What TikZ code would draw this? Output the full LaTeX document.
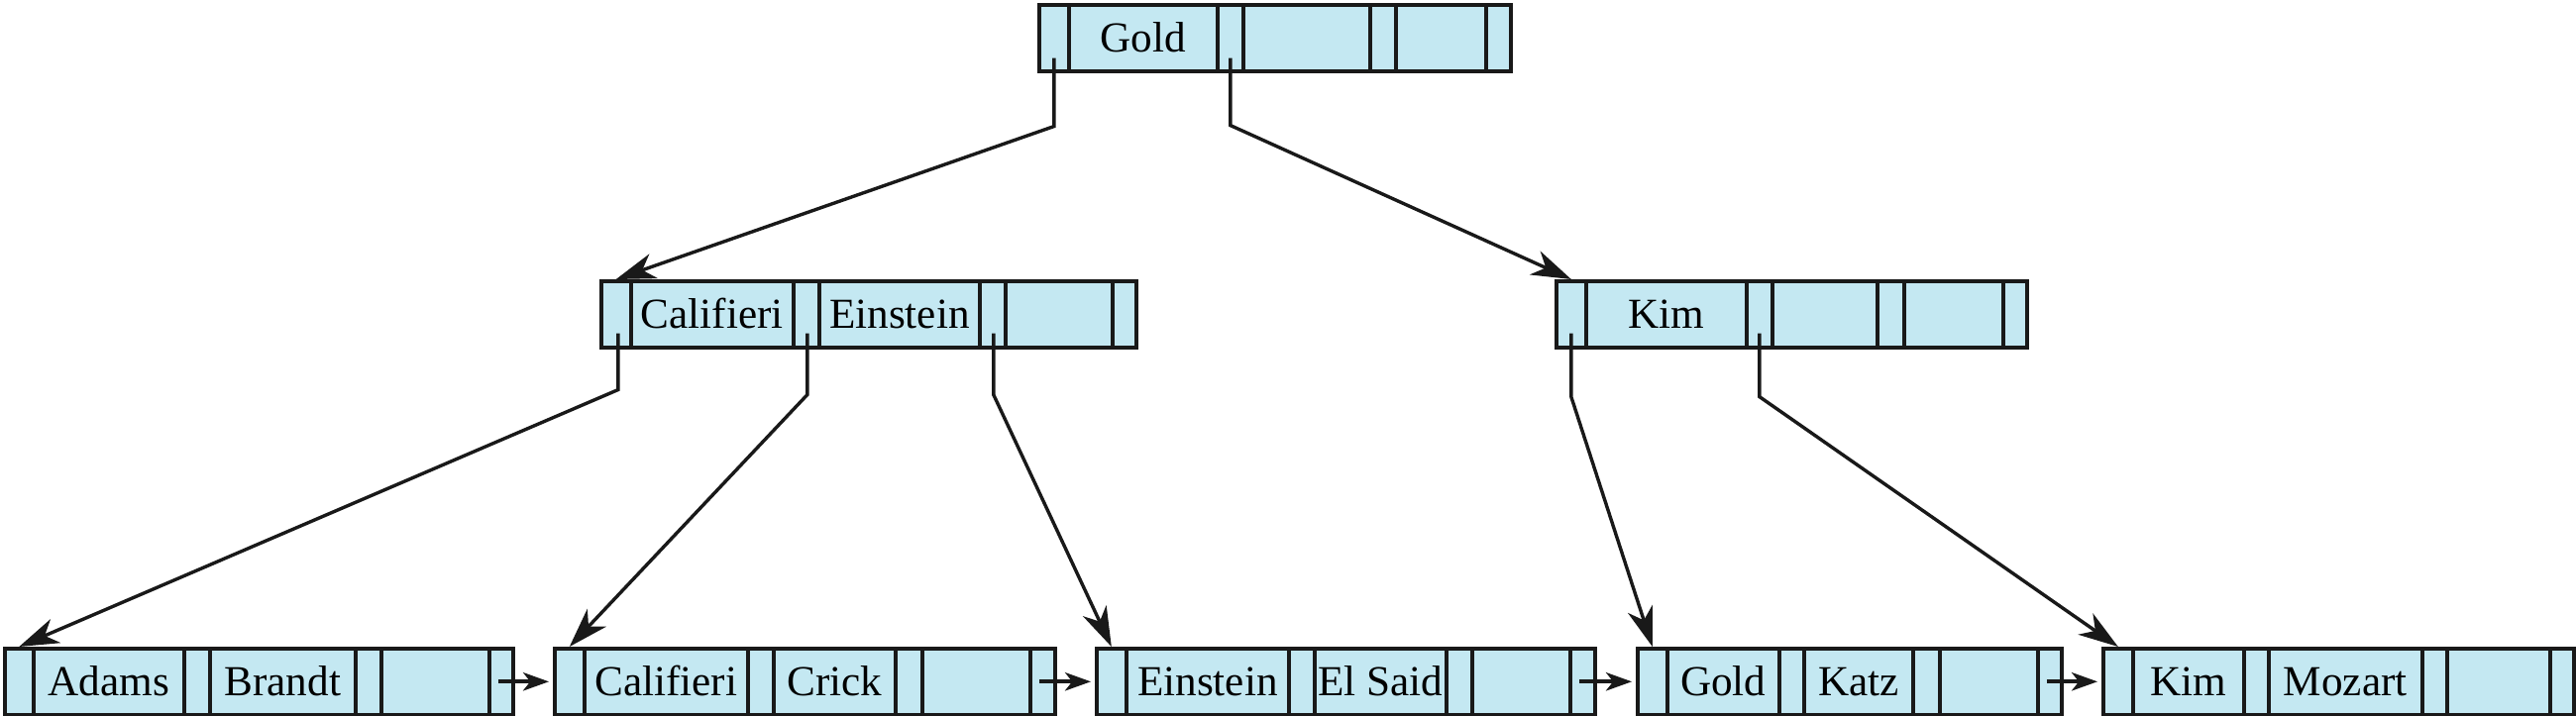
\documentclass[tikz,border=0pt]{standalone}
\usepackage{fontspec}
\setmainfont{Liberation Serif}
\usetikzlibrary{calc,arrows.meta}
\definecolor{nodeblue}{RGB}{196,232,242}
\tikzset{
  cell/.style={draw=black!90, line width=0.9pt, fill=nodeblue, inner xsep=0pt, inner ysep=0pt,
    text height=12pt, text depth=4.75pt, minimum height=16.75pt, anchor=north west,
    font=\fontsize{10.8}{12}\selectfont},
  ptr/.style={draw=black!90, line width=0.85pt, line join=miter,
    -{Stealth[length=10pt,width=6.5pt,inset=3pt]}},
  nxt/.style={draw=black!90, line width=0.9pt, shorten >=1pt,
    -{Stealth[length=6.5pt,width=4.6pt,inset=1.8pt]}}
}
\newcommand\bcell[5]{\node[cell, minimum width={(#3-#2)*0.25pt}] (#1) at (#2,#4) {#5};}
\begin{document}
\begin{tikzpicture}[x=0.25pt,y=-0.25pt]
\useasboundingbox (0,0) rectangle (2600,723);
% root
\bcell{t0}{1047}{1077}{3}{}
\bcell{t1}{1077}{1227}{3}{Gold}
\bcell{t2}{1227}{1253}{3}{}
\bcell{t3}{1253}{1381}{3}{}
\bcell{t4}{1381}{1407}{3}{}
\bcell{t5}{1407}{1498}{3}{}
\bcell{t6}{1498}{1523}{3}{}
% middle left
\bcell{m0}{605}{635}{282}{}
\bcell{m1}{635}{799}{282}{Califieri}
\bcell{m2}{799}{825}{282}{}
\bcell{m3}{825}{987}{282}{Einstein}
\bcell{m4}{987}{1013}{282}{}
\bcell{m5}{1013}{1121}{282}{}
\bcell{m6}{1121}{1145}{282}{}
% middle right
\bcell{r0}{1569}{1599}{282}{}
\bcell{r1}{1599}{1761}{282}{Kim}
\bcell{r2}{1761}{1787}{282}{}
\bcell{r3}{1787}{1893}{282}{}
\bcell{r4}{1893}{1920}{282}{}
\bcell{r5}{1920}{2020}{282}{}
\bcell{r6}{2020}{2044}{282}{}
% leaf a
\bcell{a0}{3}{32}{653}{}
\bcell{a1}{32}{184}{653}{Adams}
\bcell{a2}{184}{210}{653}{}
\bcell{a3}{210}{357}{653}{Brandt}
\bcell{a4}{357}{383}{653}{}
\bcell{a5}{383}{492}{653}{}
\bcell{a6}{492}{516}{653}{}
% leaf b
\bcell{b0}{558}{588}{653}{}
\bcell{b1}{588}{753}{653}{Califieri}
\bcell{b2}{753}{779}{653}{}
\bcell{b3}{779}{902}{653}{Crick}
\bcell{b4}{902}{929}{653}{}
\bcell{b5}{929}{1038}{653}{}
\bcell{b6}{1038}{1063}{653}{}
% leaf c
\bcell{c0}{1105}{1135}{653}{}
\bcell{c1}{1135}{1299}{653}{Einstein}
\bcell{c2}{1299}{1325}{653}{}
\bcell{c3}{1325}{1458}{653}{El Said}
\bcell{c4}{1458}{1484}{653}{}
\bcell{c5}{1484}{1583}{653}{}
\bcell{c6}{1583}{1608}{653}{}
% leaf d
\bcell{d0}{1651}{1681}{653}{}
\bcell{d1}{1681}{1794}{653}{Gold}
\bcell{d2}{1794}{1819}{653}{}
\bcell{d3}{1819}{1929}{653}{Katz}
\bcell{d4}{1929}{1956}{653}{}
\bcell{d5}{1956}{2055}{653}{}
\bcell{d6}{2055}{2079}{653}{}
% leaf e
\bcell{e0}{2121}{2151}{653}{}
\bcell{e1}{2151}{2263}{653}{Kim}
\bcell{e2}{2263}{2288}{653}{}
\bcell{e3}{2288}{2443}{653}{Mozart}
\bcell{e4}{2443}{2468}{653}{}
\bcell{e5}{2468}{2572}{653}{}
\bcell{e6}{2572}{2596}{653}{}
% tree pointers
\draw[ptr] ($(t0.south)+(0,-15)$) -- ++(0,69) -- (m0.north);
\draw[ptr] ($(t2.south)+(0,-15)$) -- ++(0,68) -- (r0.north);
\draw[ptr] ($(m0.south)+(2,-16)$) -- ++(0,57) -- (a0.north);
\draw[ptr] ($(m2.south)+(1,-16)$) -- ++(0,62) -- (b0.north);
\draw[ptr] ($(m4.south)+(1,-16)$) -- ++(0,62) -- (c0.north);
\draw[ptr] ($(r0.south)+(0,-16)$) -- ++(0,64) -- (d0.north);
\draw[ptr] ($(r2.south)+(0,-16)$) -- ++(0,64) -- (e0.north);
% leaf chain
\draw[nxt] ($(a6.center)+(-3,0)$) -- (b0.west);
\draw[nxt] ($(b6.center)+(-3,0)$) -- (c0.west);
\draw[nxt] ($(c6.center)+(-3,0)$) -- (d0.west);
\draw[nxt] ($(d6.center)+(-3,0)$) -- (e0.west);
\end{tikzpicture}
\end{document}
